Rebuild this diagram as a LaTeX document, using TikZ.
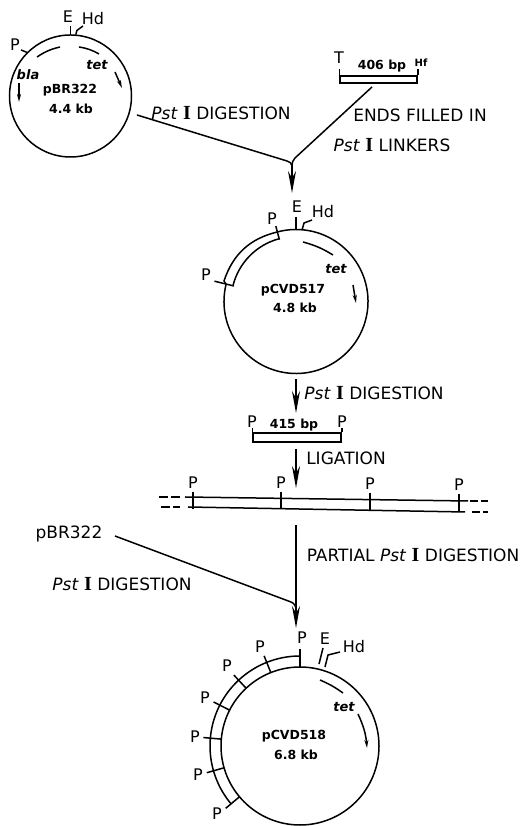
\documentclass[tikz,border=0pt]{standalone}
\usepackage{fontspec}
\setmainfont{DejaVu Sans}
\newfontfamily\serifI{Liberation Serif}
\usetikzlibrary{arrows.meta}
\newcommand{\PstI}{\textit{Pst} {\serifI\bfseries\fontsize{20}{20}\selectfont I}}
\tikzset{
  plasmid/.style={circle, inner sep=0pt},
  lab/.style={inner sep=0pt, font=\fontsize{17}{18}\selectfont},
  small/.style={inner sep=0pt, font=\bfseries\fontsize{12.5}{14}\selectfont},
  site/.style={inner sep=0pt, font=\fontsize{16}{17}\selectfont},
  gene/.style={inner sep=0pt, font=\bfseries\itshape\fontsize{13}{14}\selectfont},
}
\begin{document}
\begin{tikzpicture}[x=1pt, y=1pt, >={Stealth[length=22pt,width=8pt]}, line width=1.5pt]
  \useasboundingbox (0,0) rectangle (528,826);

  % pBR322
  \node[plasmid, draw, minimum size=122pt] (pbr) at (70.5,730) {};
  \node[small] (pbrname) at (70,736) {pBR322};
  \node[small] (pbrsize) at (71,717) {4.4 kb};
  \node[site] (pbrE) at (68,809) {E};
  \node[site] (pbrHd) at (93,807) {Hd};
  \node[site] (pbrP) at (15,781) {P};
  \node[gene] (bla) at (28,751) {bla};
  \node[gene] (tet) at (97,761) {tet};
  \draw (pbr.90) -- ++(0,8);
  \draw (pbr.85) -- ++(1,4) -- (83,800);
  \draw (pbr.135) -- (21,776);
  \draw (37,769) to[bend left=10] (60,779);
  \draw (79,779) to[bend left=10] (99,772);
  \draw[-{Stealth[length=8pt,width=4pt]}] (115,754) -- (122,738);
  \draw[-{Stealth[length=8pt,width=4pt]}] (19,743) -- (19,724);

  % 406 bp fragment
  \node[site] (fragT) at (339,768) {T};
  \node[small] (fragsize) at (382,760) {406 bp};
  \node[small, font=\bfseries\fontsize{10}{10}\selectfont] (fragHf) at (421,763) {Hf};
  \node[draw, minimum width=77pt, minimum height=7pt, inner sep=0pt] (frag) at (378.5,746.5) {};
  \draw (frag.north west) -- ++(0,6);
  \draw (frag.north east) -- ++(0,6);

  \coordinate (pbrout) at (137,711);
  \coordinate (pbrbend) at (287,665);
  \coordinate (fragout) at (372,739);
  \coordinate (fragbend) at (295,668);
  \coordinate (joinA) at (292,660);
  \coordinate (tipA) at (292,633);
  \draw (pbrout) -- (pbrbend) to[out=-17,in=90] (joinA);
  \draw (fragout) -- (fragbend) to[out=-135,in=90] (joinA);
  \draw[->] (joinA) -- (tipA);
  \node[lab] (digA) at (221,713) {\PstI{} DIGESTION};
  \node[lab] (ends) at (420,711) {ENDS FILLED IN};
  \node[lab] (linkers) at (392,681) {\PstI{} LINKERS};

  % pCVD517
  \node[plasmid, minimum size=144pt] (cvdA) at (296,524.5) {};
  \draw (cvdA.center) ++(166:72pt) arc[start angle=166, end angle=465, radius=72pt]
    to[bend right=29] (224,545) -- (226,542);
  \node[small] (cvdAname) at (293,536) {pCVD517};
  \node[small] (cvdAsize) at (295,518) {4.8 kb};
  \node[site] (cvdAE) at (297,619) {E};
  \node[site] (cvdAHd) at (323,614) {Hd};
  \node[site] (cvdAPa) at (272,607) {P};
  \node[site] (cvdAPb) at (206,551) {P};
  \node[gene] (cvdAtet) at (336,557) {tet};
  \draw (cvdA.90) -- ++(0,12);
  \draw (cvdA.85) -- (304,603) -- (312,606);
  \draw (cvdA.center) ++(105:65pt) arc[start angle=105, end angle=166, radius=65pt];
  \draw (cvdA.center) ++(105:64pt) -- ++(105:14pt);
  \draw (cvdA.center) ++(166:64pt) -- ++(166:20pt);
  \draw (303,584) to[bend left=8] (333,571);
  \draw[-{Stealth[length=8pt,width=4pt]}] (353,541) -- (356,523);

  \coordinate (cvdAout) at (296,447);
  \coordinate (tipB) at (296,413);
  \draw[->] (cvdAout) -- (tipB);
  \node[lab] (digB) at (374,433) {\PstI{} DIGESTION};

  % 415 bp fragment
  \node[draw, minimum width=88pt, minimum height=9pt, inner sep=0pt] (unit) at (297,388.5) {};
  \draw (unit.north west) -- ++(0,4);
  \draw (unit.north east) -- ++(0,4);
  \node[site] (unitPa) at (252,404) {P};
  \node[site] (unitPb) at (342,404) {P};
  \node[small] (unitsize) at (294,401) {415 bp};

  \coordinate (unitout) at (296,377);
  \coordinate (tipC) at (296,338);
  \draw[->] (unitout) -- (tipC);
  \node[lab] (lig) at (346,368) {LIGATION};

  % concatemer
  \coordinate (topL) at (185,329);
  \coordinate (topR) at (468,325);
  \coordinate (botL) at (188,319);
  \coordinate (botR) at (465,314);
  \draw (topL) -- (topR);
  \draw (botL) -- (botR);
  \draw[dash pattern=on 9pt off 3pt] (topL) ++(-26,0) -- ++(21,0);
  \draw[dash pattern=on 9pt off 3pt] (botL) ++(-27,0) -- ++(19,0);
  \draw[dash pattern=on 8pt off 3pt] (topR) ++(2,0) -- ++(18,0);
  \draw[dash pattern=on 8pt off 3pt] (botR) ++(7,0) -- ++(16,0);
  \foreach \px/\py in {193/343, 281/343, 370/342, 459/341}{
    \draw (\px,\py-9) -- (\px,\py-26);
    \node[site] (chainP\px) at (\px,\py) {P};
  }

  % pBR322 line and partial digest
  \coordinate (chainout) at (296,301);
  \coordinate (tipD) at (296,198);
  \coordinate (pbrB) at (115,290);
  \coordinate (pbrBbend) at (291,224);
  \coordinate (joinD) at (296,216);
  \draw[->] (chainout) -- (tipD);
  \draw (pbrB) -- (pbrBbend) to[out=-20,in=90] (joinD);
  \node[lab] (pbrBlab) at (69,292) {pBR322};
  \node[lab] (digC) at (122,242) {\PstI{} DIGESTION};
  \node[lab] (partial) at (413,271) {PARTIAL \PstI{} DIGESTION};

  % pCVD518
  \node[plasmid, draw, minimum size=158pt] (cvdB) at (300,80) {};
  \node[small] (cvdBname) at (294,90) {pCVD518};
  \node[small] (cvdBsize) at (296,71) {6.8 kb};
  \node[site] (cvdBE) at (325,187) {E};
  \node[site] (cvdBHd) at (354,179) {Hd};
  \node[gene] (cvdBtet) at (344,119) {tet};
  \draw (cvdB.center) ++(90:90pt) arc[start angle=90, end angle=220, radius=90pt];
  \foreach \ang/\lx/\ly in {90/302/188, 111.7/260/179, 133/227/160, 153/205/128, 175/195/89, 196/198/51, 220/217/12}{
    \draw (cvdB.center) ++(\ang:79pt) -- ++(\ang:18pt);
    \node[site] (cvdBP\lx) at (\lx,\ly) {P};
  }
  \draw (323,178) -- (319,162);
  \draw (325,159) -- (328,171) -- (340,174);
  \draw (320,146) to[bend left=6] (343,133);
  \draw[-{Stealth[length=8pt,width=4pt]}] (358,112) to[bend left=10] (367,78);
\end{tikzpicture}
\end{document}
